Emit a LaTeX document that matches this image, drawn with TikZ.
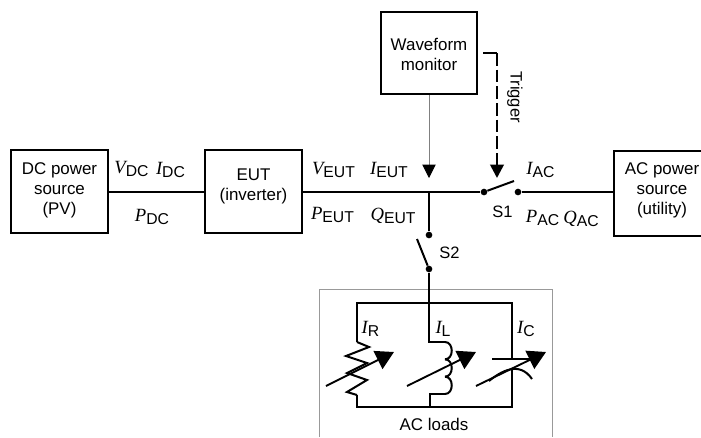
\documentclass[tikz,border=0pt]{standalone}
\usepackage{fontspec}
\setmainfont{Liberation Sans}
\newfontfamily\qtyfont{Liberation Serif}
\usetikzlibrary{arrows.meta}
\newcommand{\qtylabel}[2]{{\fontsize{14}{14}\qtyfont\itshape #1}\raisebox{-2.2pt}{\fontsize{11.8}{14}\selectfont #2}}
\tikzset{
    powerbox/.style={draw,line width=1.5pt,minimum width=72.5pt,minimum height=62pt,inner sep=0pt},
    boxtext/.style={align=center,inner sep=0pt,font=\fontsize{12.7}{15}\selectfont},
    lbl/.style={inner sep=0pt,font=\fontsize{12.4}{14}\selectfont},
    wire/.style={line width=1.5pt},
    contact/.style={circle,fill=black,inner sep=0pt,minimum size=5pt},
    adjust/.style={line width=1.4pt,-{Triangle[length=13.5pt,width=15pt]}},
}
\begin{document}
\begin{tikzpicture}[x=0.75pt,y=-0.75pt]
    \path[use as bounding box,clip] (0,0) rectangle (701,437);

    % boxes
    \node[powerbox] (dcsource) at (59.5,191.5) {};
    \node[powerbox] (eut) at (253.5,191.5) {};
    \node[powerbox] (monitor) at (429,53) {};
    \node[powerbox,minimum height=64pt] (acsource) at (662,193.5) {};
    \node[boxtext] (dctext) at (59.5,190) {DC power\\source\\(PV)};
    \node[boxtext] (euttext) at (253.5,186) {EUT\\(inverter)};
    \node[boxtext] (monitortext) at (429,54) {Waveform\\monitor};
    \node[boxtext] (actext) at (662,190) {AC power\\source\\(utility)};

    % switches
    \coordinate (bus) at (429,192);
    \node[contact] (s1left) at (484,192) {};
    \node[contact] (s1right) at (518,192) {};
    \node[contact] (s2top) at (429,235) {};
    \node[contact] (s2bottom) at (429,269) {};
    \coordinate (s1blade) at (514,181);
    \coordinate (s2blade) at (417,239);

    % main line
    \draw[wire] (dcsource.east |- bus) -- (eut.west |- bus);
    \draw[wire] (eut.east |- bus) -- (s1left);
    \draw[wire] (s1right) -- (acsource.west |- bus);
    \draw[wire] (bus) -- (s2top);
    \draw[wire] (s1left) -- (s1blade);
    \draw[wire] (s2bottom) -- (s2blade);

    % monitor connections
    \coordinate (probe) at (429,178);
    \coordinate (trigstart) at (483,53);
    \coordinate (trigcorner) at (497,53);
    \coordinate (trigend) at (497,178);
    \draw[gray,line width=0.7pt,-{Triangle[length=10pt,width=10pt,color=black]}] (monitor.south) -- (probe);
    \draw[wire] (trigstart) -- (trigcorner);
    \draw[line width=2pt,dash pattern=on 9.5pt off 3pt,-{Triangle[length=10pt,width=10pt]}] (trigcorner) -- (trigend);
    \node[lbl,rotate=-90] (trigger) at (515,97) {Trigger};

    % labels
    \node[lbl] (vdc) at (131.5,169) {\qtylabel{V}{DC}};
    \node[lbl] (idc) at (170.5,170) {\qtylabel{I}{DC}};
    \node[lbl] (pdc) at (152,217) {\qtylabel{P}{DC}};
    \node[lbl] (veut) at (333.5,170) {\qtylabel{V}{EUT}};
    \node[lbl] (ieut) at (389,170) {\qtylabel{I}{EUT}};
    \node[lbl] (peut) at (332.5,215) {\qtylabel{P}{EUT}};
    \node[lbl] (qeut) at (393,216) {\qtylabel{Q}{EUT}};
    \node[lbl] (iac) at (540.5,170) {\qtylabel{I}{AC}};
    \node[lbl] (pac) at (542.5,218) {\qtylabel{P}{AC}};
    \node[lbl] (qac) at (581,219) {\qtylabel{Q}{AC}};
    \node[lbl] (sone) at (502.5,212) {S1};
    \node[lbl] (stwo) at (449.5,253) {S2};

    % AC loads
    \draw[gray!80,line width=0.55pt] (319,437) -- (319,289) -- (552,289) -- (552,437);
    \node[lbl] (ir) at (370.5,329) {\qtylabel{I}{R}};
    \node[lbl] (il) at (443,329) {\qtylabel{I}{L}};
    \node[lbl] (ic) at (526,329) {\qtylabel{I}{C}};
    \node[boxtext] (loads) at (434,424) {AC loads};

    \draw[wire] (s2bottom) -- (429,342) -- (445,342);
    \draw[wire] (357,342) -- (357,303) -- (512,303) -- (512,359);
    \draw[wire] (512,368) -- (512,407) -- (357,407) -- (357,395);
    % resistor
    \draw[wire,line join=miter] (357,342) -- (369,347) -- (346,356) -- (367,363) -- (347,373) -- (367,380) -- (347,392) -- (357,395);
    % inductor
    \foreach \y in {342,359.33,376.67}
        \draw[wire] (445,\y) .. controls (454,\y) and (454,\y+17.33) .. (445,\y+17.33);
    \draw[wire] (445,394) -- (430,394) -- (430,407);
    % capacitor
    \draw[wire] (492,359) -- (535,359);
    \draw[wire] (489,381) .. controls (500,372) and (519,360) .. (532,379);
    % variable arrows
    \draw[adjust] (326,386) -- (394,352);
    \draw[adjust] (407,386) -- (476,352);
    \draw[adjust] (476,386) -- (546,352);
\end{tikzpicture}
\end{document}
